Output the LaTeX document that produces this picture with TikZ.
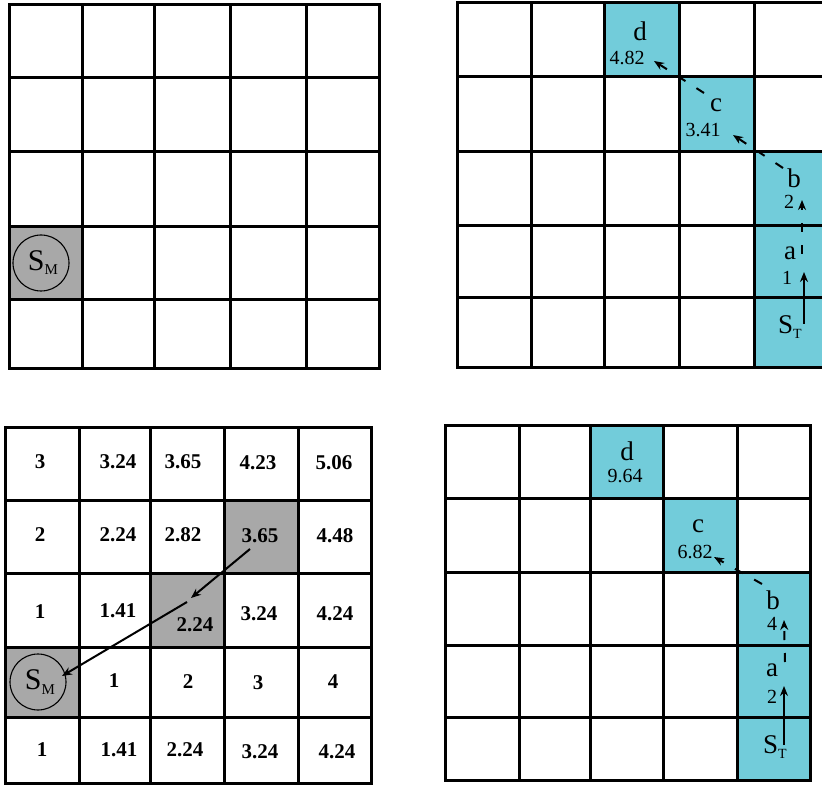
\documentclass[tikz,border=0pt]{standalone}
\usepackage{fontspec}
\setmainfont{Liberation Serif}
\usetikzlibrary{arrows.meta}
\definecolor{cy}{HTML}{72CCDA}
\definecolor{gr}{HTML}{A8A8A8}
\tikzset{
  gridline/.style={line width=3pt, line cap=rect},
  smcirc/.style={draw, circle, line width=1.1pt, minimum size=56pt, inner sep=0pt},
  letter/.style={inner sep=0pt, font=\fontsize{27}{27}\selectfont},
  num/.style={inner sep=0pt, font=\fontsize{20}{20}\selectfont},
  bnum/.style={inner sep=0pt, font=\fontsize{21}{21}\selectfont\bfseries},
  arr/.style={line width=2pt, -{Stealth[length=10pt,width=8pt]}},
  darr/.style={line width=2pt, dash pattern=on 9pt off 13pt, -{Stealth[length=10pt,width=8pt]}},
}
\newcommand{\SM}{{\fontsize{30}{30}\selectfont S\raisebox{-0.3ex}{\fontsize{15}{15}\selectfont M}}}
\newcommand{\ST}{{\fontsize{27}{27}\selectfont S\raisebox{-0.35ex}{\fontsize{14}{14}\selectfont T}}}
\begin{document}
\begin{tikzpicture}[x=1pt,y=-1pt]
\useasboundingbox (0,0) rectangle (822,786);
\clip (0,0) rectangle (822,786);
% ---------- top-left grid ----------
\fill[gr] (9,227) rectangle (82,300);
\foreach \x in {9,82,154,230,306,379} \draw[gridline] (\x,5) -- (\x,368);
\foreach \y in {5,78,152,227,300,368} \draw[gridline] (9,\y) -- (379,\y);
\node[smcirc] (smA) at (41,263) {\hspace*{4pt}\SM};
% ---------- top-right grid ----------
\fill[cy] (604,3) rectangle (679,77);
\fill[cy] (679,77) rectangle (754,152);
\fill[cy] (754,152) rectangle (829,367);
\foreach \x in {457,531,604,679,754,829} \draw[gridline] (\x,3) -- (\x,367);
\foreach \y in {3,77,152,226,298,367} \draw[gridline] (457,\y) -- (829,\y);
\node[letter] (dA) at (640,31) {d};
\node[num] (dAv) at (627,58) {4.82};
\node[letter] (cA) at (716,105) {c};
\node[num] (cAv) at (703,130) {3.41};
\node[letter] (bA) at (794,178) {b};
\node[num] (bAv) at (789,202) {2};
\node[letter] (aA) at (790,253) {a};
\node[num] (aAv) at (787,278) {1};
\node (stA) at (790,327) {\ST};
\coordinate (p1) at (804,324);
\coordinate (p2) at (804,272);
\coordinate (p3) at (802,254);
\coordinate (p4) at (802,200);
\coordinate (p5) at (783,168);
\coordinate (p6) at (733,135);
\coordinate (p7) at (704,93);
\coordinate (p8) at (654,61);
\draw[arr] (p1) -- (p2);
\draw[darr] (p3) -- (p4);
\draw[darr] (p5) -- (p6);
\draw[darr] (p7) -- (p8);
% ---------- bottom-left grid ----------
\fill[gr] (224,500) rectangle (298,573);
\fill[gr] (150,573) rectangle (224,647);
\fill[gr] (5,647) rectangle (79,717);
\foreach \x in {5,79,150,224,298,371} \draw[gridline] (\x,427) -- (\x,783);
\foreach \y in {427,500,573,647,717,783} \draw[gridline] (5,\y) -- (371,\y);
\node[bnum] (r1c1) at (40,462) {3};
\node[bnum] (r1c2) at (118,462) {3.24};
\node[bnum] (r1c3) at (183,462) {3.65};
\node[bnum] (r1c4) at (258,463) {4.23};
\node[bnum] (r1c5) at (334,463) {5.06};
\node[bnum] (r2c1) at (40,535) {2};
\node[bnum] (r2c2) at (118,535) {2.24};
\node[bnum] (r2c3) at (183,535) {2.82};
\node[bnum] (r2c4) at (260,536) {3.65};
\node[bnum] (r2c5) at (335,536) {4.48};
\node[bnum] (r3c1) at (40,612) {1};
\node[bnum] (r3c2) at (118,611) {1.41};
\node[bnum] (r3c3) at (195,625) {2.24};
\node[bnum] (r3c4) at (259,614) {3.24};
\node[bnum] (r3c5) at (335,614) {4.24};
\node[smcirc] (smB) at (38,682) {\hspace*{4pt}\SM};
\node[bnum] (r4c2) at (114,681) {1};
\node[bnum] (r4c3) at (188,682) {2};
\node[bnum] (r4c4) at (258,683) {3};
\node[bnum] (r4c5) at (333,682) {4};
\node[bnum] (r5c1) at (42,750) {1};
\node[bnum] (r5c2) at (119,750) {1.41};
\node[bnum] (r5c3) at (185,750) {2.24};
\node[bnum] (r5c4) at (260,752) {3.24};
\node[bnum] (r5c5) at (337,752) {4.24};
\coordinate (q1) at (250,549);
\coordinate (q2) at (191,598);
\coordinate (q3) at (187,602);
\coordinate (q4) at (62,676);
\draw[arr] (q1) -- (q2);
\draw[arr] (q3) -- (q4);
% ---------- bottom-right grid ----------
\fill[cy] (590,425) rectangle (663,498);
\fill[cy] (663,498) rectangle (737,572);
\fill[cy] (737,572) rectangle (810,780);
\foreach \x in {445,519,590,663,737,810} \draw[gridline] (\x,425) -- (\x,780);
\foreach \y in {425,498,572,645,717,780} \draw[gridline] (445,\y) -- (810,\y);
\node[letter] (dB) at (627,451) {d};
\node[num] (dBv) at (625,476) {9.64};
\node[letter] (cB) at (698,526) {c};
\node[num] (cBv) at (695,552) {6.82};
\node[letter] (bB) at (773,600) {b};
\node[num] (bBv) at (772,624) {4};
\node[letter] (aB) at (772,670) {a};
\node[num] (aBv) at (772,697) {2};
\node (stB) at (775,747) {\ST};
\coordinate (s1) at (784,745);
\coordinate (s2) at (784,686);
\coordinate (s3) at (785,662);
\coordinate (s4) at (784,620);
\coordinate (s5) at (762,584);
\coordinate (s6) at (714,557);
\draw[arr] (s1) -- (s2);
\draw[darr] (s3) -- (s4);
\draw[darr] (s5) -- (s6);
\end{tikzpicture}
\end{document}
